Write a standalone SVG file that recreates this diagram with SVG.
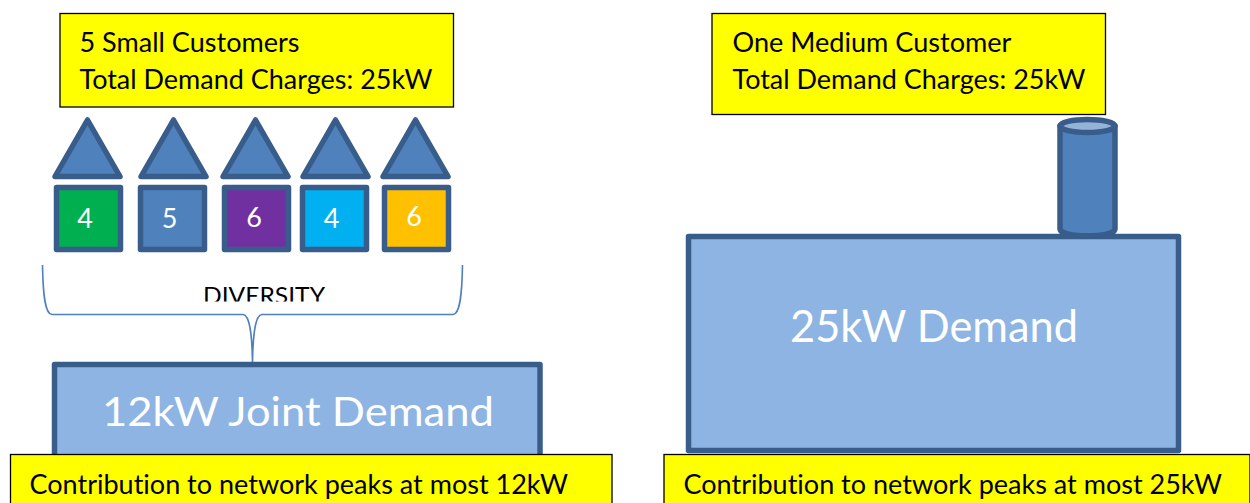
<svg xmlns="http://www.w3.org/2000/svg" width="1250" height="503" viewBox="0 0 1250 503">
<style>
text{font-family:"Lato","Open Sans","Liberation Sans",sans-serif;font-variant-ligatures:none}
.y{fill:#ffff00;stroke:#000;stroke-width:1.3}
.l{font-size:26px;fill:#000}
.s{stroke:#385d8a;stroke-width:5.500;stroke-linejoin:round}
.b{fill:#4f81bd}
.lb{fill:#8eb4e3}
.n{font-size:27px;fill:#fff;text-anchor:middle}
.w{fill:#fff;text-anchor:middle}
</style>
<defs><clipPath id="c"><rect x="190" y="270" width="150" height="31.5"/></clipPath></defs>
<g id="small-customers"><rect class="y" x="60" y="13.500" width="393.500" height="93.500"/>
<text class="l" x="79.500" y="51.500" textLength="220" lengthAdjust="spacingAndGlyphs">5 Small Customers</text>
<text class="l" x="79.500" y="88.500" textLength="353" lengthAdjust="spacingAndGlyphs">Total Demand Charges: 25kW</text></g>
<g id="medium-customer"><rect class="y" x="712" y="13.500" width="393.500" height="101"/>
<text class="l" x="732.500" y="51.500" textLength="279" lengthAdjust="spacingAndGlyphs">One Medium Customer</text>
<text class="l" x="732.500" y="88.500" textLength="353" lengthAdjust="spacingAndGlyphs">Total Demand Charges: 25kW</text></g>
<g id="house-1"><path class="s b" d="M87.500 120L120 176.500H55Z"/><rect class="s" fill="#00b050" x="56.500" y="187.500" width="64" height="62"/><text class="n" x="85" y="228">4</text></g>
<g id="house-2"><path class="s b" d="M173.500 120L206 176.500H141Z"/><rect class="s b" x="140.500" y="187.500" width="64" height="62"/><text class="n" x="169.500" y="228">5</text></g>
<g id="house-3"><path class="s b" d="M255.500 120L288 176.500H223Z"/><rect class="s" fill="#7030a0" x="224.500" y="187.500" width="64" height="62"/><text class="n" x="254" y="227">6</text></g>
<g id="house-4"><path class="s b" d="M335.500 120L368 176.500H303Z"/><rect class="s" fill="#00b0f0" x="302.500" y="187.500" width="64" height="62"/><text class="n" x="331.500" y="228">4</text></g>
<g id="house-5"><path class="s b" d="M415.500 120L448 176.500H383Z"/><rect class="s" fill="#ffc000" x="384.500" y="187.500" width="64" height="62"/><text class="n" x="414" y="226">6</text></g>
<g id="diversity"><text x="264" y="304" clip-path="url(#c)" font-size="24" fill="#000" text-anchor="middle" textLength="122" lengthAdjust="spacingAndGlyphs">DIVERSITY</text></g>
<g id="connectors"><path d="M42.500 265C43 295 45 314 52 314.500H243C250 315 252 335 252.500 362C253 335 255 315 262 314.500H453C460 314 462 295 462.500 265" fill="none" stroke="#4f81bd" stroke-width="1.600"/></g>
<g id="joint-demand"><rect class="s lb" x="54.500" y="364.500" width="485.500" height="95"/><text class="w" x="298" y="426" font-size="41" textLength="392" lengthAdjust="spacingAndGlyphs">12kW Joint Demand</text></g>
<g id="demand-25"><rect class="s lb" x="688.500" y="236.500" width="490" height="214"/><text class="w" x="934" y="342" font-size="44" textLength="288" lengthAdjust="spacingAndGlyphs">25kW Demand</text></g>
<g id="cylinder"><path class="s b" d="M1060 126V229C1060 238 1115 238 1115 229V126Z"/><ellipse class="s" fill="#95b3d7" cx="1087.500" cy="126" rx="27.500" ry="6.500"/></g>
<g id="note-12"><rect class="y" x="10.500" y="454.500" width="601.500" height="60"/><text class="l" x="29.500" y="493.500" textLength="538.500" lengthAdjust="spacingAndGlyphs">Contribution to network peaks at most 12kW</text></g>
<g id="note-25"><rect class="y" x="664" y="454.500" width="586" height="60"/><text class="l" x="683.500" y="493.500" textLength="538.500" lengthAdjust="spacingAndGlyphs">Contribution to network peaks at most 25kW</text></g>
</svg>
